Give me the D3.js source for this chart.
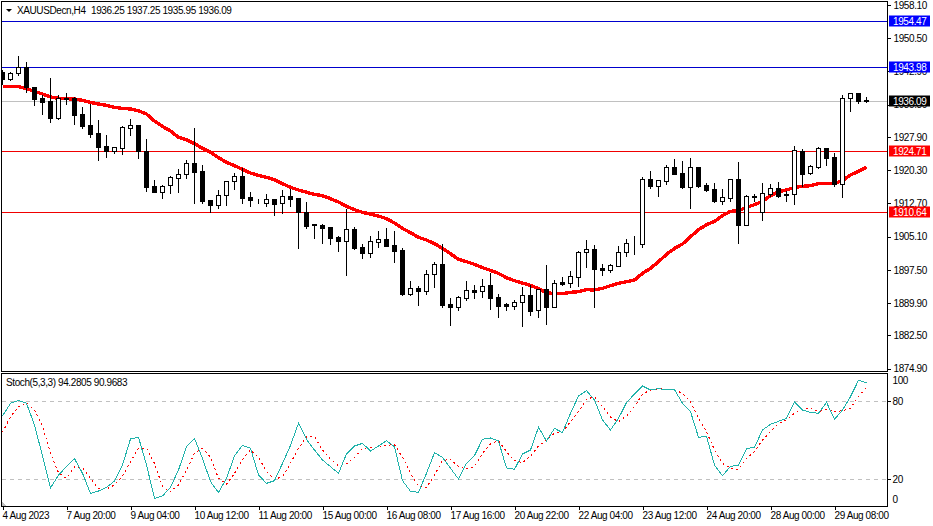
<!DOCTYPE html>
<html lang="en">

<head>
    <meta charset="UTF-8">
    <title>XAUUSDecn,H4</title>
    <script src="https://cdn.jsdelivr.net/npm/d3@7/dist/d3.min.js" charset="utf-8"></script>
    <style>
        html, body { margin: 0; padding: 0; background: #fff; }
        svg { display: block; }
        text { font-family: "Liberation Sans", Arial, sans-serif; font-size: 10px; letter-spacing: -0.4px; fill: #000; }
    </style>
</head>

<body>
    <div id="chart"></div>
    <script type="text/javascript">
        // H4 candles
        var opens = [1942.85,1941.24,1942.46,1943.83,1939.26,1936.82,1936.13,1932.31,1936.82,1936.82,
            1933.15,1930.64,1928.81,1925.83,1924.76,1925.45,1930.03,1930.64,1924.61,1916.68,
            1915.38,1916.83,1918.58,1919.35,1921.86,1920.11,1913.47,1912.41,1914.54,1917.75,
            1918.97,1914.08,1913.55,1912.86,1913.63,1912.71,1914.39,1913.93,1910.73,1907.98,
            1907.75,1907.29,1905.00,1904.17,1906.76,1902.64,1901.42,1903.94,1904.47,1903.18,
            1902.03,1892.04,1893.34,1892.73,1896.46,1898.83,1889.67,1889.06,1891.12,1892.88,
            1892.57,1893.95,1891.28,1889.67,1889.29,1890.06,1891.73,1888.22,1893.11,1889.06,
            1894.71,1894.56,1895.93,1901.50,1902.18,1897.84,1897.54,1898.45,1901.50,1903.52,
            1903.33,1918.21,1916.76,1917.90,1920.95,1919.58,1916.53,1920.95,1916.83,1915.92,
            1913.33,1914.01,1918.21,1907.83,1914.17,1910.66,1914.93,1916.15,1914.78,1914.78,
            1924.62,1919.73,1921.11,1925.38,1923.24,1917.22,1936.74,1937.89,1936.25];
        var highs = [1943.50,1943.07,1946.66,1945.20,1939.56,1937.73,1941.55,1937.73,1938.19,1937.27,
            1934.98,1935.60,1932.01,1928.58,1925.83,1930.71,1932.24,1930.80,1927.66,1918.28,
            1917.13,1919.19,1920.80,1922.93,1930.10,1921.71,1913.70,1916.00,1918.05,1919.88,
            1920.95,1915.61,1913.93,1915.08,1913.70,1916.00,1916.22,1914.08,1913.24,1908.21,
            1908.21,1907.52,1905.46,1911.57,1907.45,1903.63,1905.46,1906.61,1907.29,1906.61,
            1902.72,1895.17,1894.02,1897.68,1899.51,1903.63,1891.28,1891.73,1895.17,1894.25,
            1895.62,1897.00,1892.19,1890.13,1890.82,1893.79,1894.25,1893.34,1898.83,1895.40,
            1896.08,1897.45,1902.03,1904.55,1903.40,1899.06,1899.06,1903.18,1904.71,1905.47,
            1918.97,1920.34,1918.05,1921.72,1923.09,1922.63,1923.32,1921.26,1917.60,1917.60,
            1916.22,1918.51,1922.40,1914.85,1915.08,1917.60,1917.37,1917.83,1915.77,1926.07,
            1925.38,1921.72,1925.84,1925.61,1924.46,1937.74,1938.12,1937.95,1937.25];
        var lows = [1940.00,1940.93,1942.00,1938.19,1935.29,1933.23,1931.40,1932.09,1935.44,1930.94,
            1930.03,1927.89,1922.70,1923.31,1924.31,1924.08,1928.42,1923.16,1915.61,1915.30,
            1914.01,1915.15,1915.38,1918.58,1912.86,1912.86,1910.73,1911.72,1912.41,1916.07,
            1912.86,1912.18,1912.86,1912.18,1910.12,1910.58,1912.18,1902.50,1907.14,1904.78,
            1903.71,1903.48,1901.88,1896.39,1902.34,1900.28,1900.51,1902.79,1902.95,1899.36,
            1891.81,1891.81,1889.52,1892.04,1893.64,1889.06,1884.94,1888.38,1890.67,1891.12,
            1891.35,1888.61,1886.78,1888.38,1888.61,1884.71,1887.23,1886.78,1885.17,1889.00,
            1894.10,1893.64,1893.79,1898.14,1889.06,1896.30,1897.08,1898.45,1900.74,1901.05,
            1902.65,1916.22,1914.39,1917.14,1919.40,1916.22,1911.65,1916.45,1915.54,1913.02,
            1912.56,1913.25,1903.64,1907.68,1913.25,1908.90,1914.39,1914.17,1913.25,1912.56,
            1916.68,1919.43,1920.80,1921.49,1916.68,1914.17,1933.85,1935.68,1935.95];
        var closes = [1941.17,1942.46,1943.83,1939.26,1936.66,1935.98,1932.31,1936.74,1936.59,1933.00,
            1930.41,1928.65,1925.68,1924.69,1925.53,1930.10,1930.56,1924.61,1916.52,1915.30,
            1916.68,1918.66,1919.35,1921.86,1919.96,1913.32,1912.41,1914.54,1917.75,1918.89,
            1914.01,1913.47,1913.40,1913.63,1912.63,1914.31,1913.78,1910.65,1907.60,1907.83,
            1907.14,1904.85,1904.17,1906.76,1902.49,1901.42,1904.01,1904.47,1903.02,1901.88,
            1891.96,1893.26,1892.73,1896.46,1898.75,1889.52,1889.06,1891.20,1892.80,1892.50,
            1893.72,1891.12,1889.29,1889.29,1890.06,1891.66,1888.15,1893.11,1889.06,1894.40,
            1894.33,1896.00,1901.50,1902.18,1897.76,1897.53,1898.61,1901.50,1903.64,1903.40,
            1918.21,1916.68,1917.98,1920.95,1919.43,1916.45,1920.95,1916.68,1915.77,1913.25,
            1914.09,1918.21,1907.83,1914.32,1914.30,1915.00,1916.15,1914.47,1914.55,1924.85,
            1919.43,1921.18,1925.30,1923.17,1917.14,1936.74,1937.89,1936.13,1936.09];

        // red moving average
        var maValues = [1939.41,1939.41,1939.41,1938.95,1938.34,1937.73,1937.04,1936.74,1936.66,1936.59,
            1936.28,1935.82,1935.44,1935.14,1934.68,1934.45,1934.30,1933.92,1933.15,1931.55,
            1930.33,1929.26,1927.81,1927.28,1926.37,1925.30,1924.38,1923.16,1922.09,1921.33,
            1920.49,1919.65,1919.12,1918.66,1918.13,1917.21,1916.37,1915.76,1915.25,1914.77,
            1914.46,1913.78,1913.02,1912.02,1911.26,1910.65,1910.27,1909.81,1909.20,1908.21,
            1906.99,1905.99,1904.93,1904.32,1903.48,1902.41,1901.19,1899.90,1899.36,1898.75,
            1897.99,1897.38,1896.69,1895.70,1895.01,1894.48,1893.95,1893.18,1892.27,1892.04,
            1892.04,1892.34,1892.50,1892.95,1892.90,1893.27,1893.88,1894.41,1894.79,1895.17,
            1896.70,1897.84,1899.37,1901.05,1902.40,1903.41,1905.09,1906.69,1907.83,1908.60,
            1909.90,1910.89,1911.04,1911.80,1912.41,1913.17,1914.47,1915.39,1915.77,1916.38,
            1916.61,1916.76,1917.22,1917.29,1917.29,1917.90,1919.20,1920.04,1920.95];

        // stochastic, main and signal
        var stochMain = [68.7,78.44,80.75,78.44,61.77,37.93,13.31,23.31,29.72,35.88,
            24.6,9.21,11.0,13.83,18.7,31.0,51.0,52.3,31.0,5.36,
            7.16,13.83,27.16,45.1,51.26,36.13,18.19,9.98,20.75,37.93,
            46.13,43.83,23.31,16.9,18.95,32.29,46.13,63.06,50.75,42.54,
            34.85,29.72,24.6,39.47,45.62,47.67,41.77,45.62,49.72,45.1,
            18.95,10.75,9.98,24.6,40.49,36.9,28.44,20.24,32.29,38.19,
            50.75,51.77,49.47,28.7,27.67,39.47,42.54,59.98,49.47,59.21,
            55.88,70.75,84.08,88.18,81.0,65.62,57.93,66.9,78.95,85.62,
            91.77,88.7,89.72,88.95,88.95,78.44,72.03,52.29,53.06,31.0,
            22.8,29.98,30.75,43.57,44.6,57.93,62.29,64.6,66.9,79.47,
            73.31,71.52,70.75,79.21,66.13,73.31,83.57,96.13,94.28];
        var stochSignal = [56.13,68.18,75.87,78.95,73.31,60.49,39.98,25.11,20.75,29.47,
            29.21,20.75,12.8,12.54,15.62,22.54,33.57,43.83,43.83,32.29,
            14.34,10.49,15.62,27.16,39.98,43.83,36.9,20.75,16.13,24.6,
            35.37,42.54,36.9,25.88,19.98,22.03,32.29,43.83,52.8,52.8,
            42.54,35.37,30.49,31.77,36.9,43.83,44.34,44.6,46.13,46.65,
            36.9,24.6,14.34,13.83,23.31,34.34,35.37,29.72,27.93,29.72,
            39.98,47.16,49.72,41.26,34.34,32.8,37.93,45.62,50.24,55.36,
            56.39,64.34,72.03,81.52,83.57,75.87,67.67,64.34,68.7,75.87,
            85.62,88.7,89.72,89.21,88.95,86.13,79.72,66.9,56.65,42.54,
            32.29,28.44,27.67,36.13,41.26,50.24,56.65,63.06,65.62,70.75,
            73.82,74.59,72.03,73.82,72.03,72.8,74.59,83.57,90.97];

        var priceTicks = [1958.10,1950.50,1942.90,1935.30,1927.90,1920.30,1912.70,1905.10,1897.50,1889.90,1882.50,1874.90];
        var timeLabels = ['4 Aug 2023','7 Aug 20:00','9 Aug 04:00','10 Aug 12:00','11 Aug 20:00','15 Aug 00:00','16 Aug 08:00',
            '17 Aug 16:00','20 Aug 22:00','22 Aug 04:00','23 Aug 12:00','24 Aug 20:00','28 Aug 00:00','29 Aug 08:00'];
        var levelPrices = [1954.47,1943.98,1936.09,1924.71,1910.64];
        var levelColors = ['#0000cd','#0000cd','#c0c0c0','#f00000','#f00000'];
        var tagColors = ['#0000ff','#0000ff','#000000','#ff0000','#ff0000'];
        var stochLevels = [80,20];
        var stochTickValues = [96.2,80,20,4.6];   // 100 and 0 sit inside the pane
        var stochTickLabels = ['100','80','20','0'];

        var width = 933, height = 526;
        var svg = d3.select('#chart').append('svg').attr('width', width).attr('height', height);

        var x = d3.scaleLinear().domain([0, 108]).range([2.5, 866.5]);
        var y = d3.scaleLinear().domain([1874.9, 1958.1]).range([368.6, 5]);
        var yStoch = d3.scaleLinear().domain([0, 100]).range([505.3, 375.3]);
        function snap(v) { return Math.round(v) + 0.5; }

        svg.append('clipPath').attr('id', 'main-clip').append('rect')
            .attr('x', 1).attr('y', 1).attr('width', 886).attr('height', 370);
        var main = svg.append('g').attr('clip-path', 'url(#main-clip)').attr('shape-rendering', 'crispEdges');

        // horizontal levels
        main.selectAll('.level').data(levelPrices).enter().append('line')
            .attr('x1', 1).attr('x2', 887)
            .attr('y1', function(d) { return snap(y(d)); })
            .attr('y2', function(d) { return snap(y(d)); })
            .attr('stroke', function(d, i) { return levelColors[i]; });

        // moving average goes behind the candles
        var maLine = d3.line().x(function(d, i) { return x(i); }).y(function(d) { return y(d); });
        main.append('path').datum(maValues).attr('d', maLine)
            .attr('fill', 'none').attr('stroke', '#ff0000').attr('stroke-width', 3.4);

        // candles
        var candle = main.selectAll('.candle').data(d3.range(opens.length)).enter().append('g');
        candle.append('line')
            .attr('x1', function(i) { return x(i); }).attr('x2', function(i) { return x(i); })
            .attr('y1', function(i) { return snap(y(highs[i])); })
            .attr('y2', function(i) { return snap(y(lows[i])); })
            .attr('stroke', '#000');
        candle.append('rect')
            .attr('x', function(i) { return x(i) - 2; })
            .attr('width', 4)
            .attr('y', function(i) { return snap(y(Math.max(opens[i], closes[i]))); })
            .attr('height', function(i) { return snap(y(Math.min(opens[i], closes[i]))) - snap(y(Math.max(opens[i], closes[i]))); })
            .attr('fill', function(i) { return closes[i] >= opens[i] ? '#fff' : '#000'; })
            .attr('stroke', '#000');

        // stochastic pane
        var sub = svg.append('g').attr('shape-rendering', 'crispEdges');
        sub.selectAll('.stoch-level').data(stochLevels).enter().append('line')
            .attr('x1', 2).attr('x2', 887)
            .attr('y1', function(d) { return snap(yStoch(d)); })
            .attr('y2', function(d) { return snap(yStoch(d)); })
            .attr('stroke', '#c0c0c0').attr('stroke-dasharray', '4,4');
        var stochLine = d3.line().x(function(d, i) { return x(i); }).y(function(d) { return yStoch(d); });
        sub.append('path').datum(stochSignal).attr('d', stochLine)
            .attr('fill', 'none').attr('stroke', '#ff0000').attr('stroke-dasharray', '2,3');
        sub.append('path').datum(stochMain).attr('d', stochLine)
            .attr('fill', 'none').attr('stroke', '#20b2aa');
        sub.append('path').attr('d', 'M2,502 L7,506 L2,506 Z').attr('fill', '#c0c0c0');

        // frames
        var frame = svg.append('g').attr('shape-rendering', 'crispEdges').attr('fill', 'none').attr('stroke', '#000');
        frame.append('rect').attr('x', 1.5).attr('y', 1.5).attr('width', 886).attr('height', 370);
        frame.append('rect').attr('x', 1.5).attr('y', 373.5).attr('width', 886).attr('height', 133);

        // price axis
        var priceAxis = d3.axisRight(y).tickValues(priceTicks).tickFormat(d3.format('.2f')).tickSize(3).tickPadding(3);
        var gPrice = svg.append('g').attr('transform', 'translate(887.5,0)').call(priceAxis);
        gPrice.select('.domain').remove();
        gPrice.selectAll('line').attr('shape-rendering', 'crispEdges').attr('stroke', '#000');

        // stochastic axis
        var stochAxis = d3.axisRight(yStoch).tickValues(stochTickValues)
            .tickFormat(function(d, i) { return stochTickLabels[i]; }).tickSize(3).tickPadding(2);
        var gStoch = svg.append('g').attr('transform', 'translate(887.5,0)').call(stochAxis);
        gStoch.select('.domain').remove();
        gStoch.selectAll('line').attr('shape-rendering', 'crispEdges').attr('stroke', '#000')
            .attr('opacity', function(d, i) { return stochLevels.indexOf(d) >= 0 ? 1 : 0; });

        // time axis, one label every 8 bars
        var timeAxis = d3.axisBottom(x).tickValues(timeLabels.map(function(d, i) { return i * 8; }))
            .tickFormat(function(d, i) { return timeLabels[i]; }).tickSize(3).tickPadding(2);
        var gTime = svg.append('g').attr('transform', 'translate(0,506.5)').call(timeAxis);
        gTime.select('.domain').remove();
        gTime.selectAll('line').attr('shape-rendering', 'crispEdges').attr('stroke', '#000');
        gTime.selectAll('text').attr('text-anchor', 'start').attr('dx', -0.5);

        // price tags on the right
        var tag = svg.selectAll('.tag').data(levelPrices).enter().append('g')
            .attr('transform', function(d) { return 'translate(889,' + (snap(y(d)) - 6) + ')'; });
        tag.append('rect').attr('width', 41).attr('height', 11)
            .attr('fill', function(d, i) { return tagColors[i]; });
        tag.append('text').attr('x', 4).attr('y', 9.5).style('fill', '#fff')
            .text(function(d) { return d3.format('.2f')(d); });

        // headers
        svg.append('path').attr('d', 'M6,9 L12,9 L9,12 Z').attr('fill', '#000');
        svg.append('text').attr('x', 17).attr('y', 13.5).text('XAUUSDecn,H4');
        svg.append('text').attr('x', 91).attr('y', 13.5).text('1936.25 1937.25 1935.95 1936.09');
        svg.append('text').attr('x', 6).attr('y', 385.5).text('Stoch(5,3,3) 94.2805 90.9683');
    </script>
</body>

</html>
